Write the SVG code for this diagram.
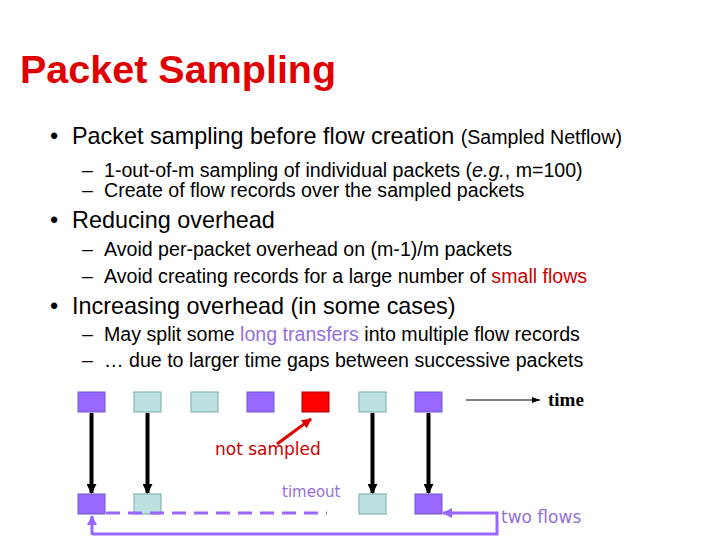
<svg xmlns="http://www.w3.org/2000/svg" width="720" height="540" viewBox="0 0 720 540">
<defs>
<style>
.t{font-family:"Liberation Sans",Arial,sans-serif;fill:#000}
.b1{font-size:23.4px}.b2{font-size:19.6px}
.p{fill:#9966ff;stroke:#6a5acd;stroke-width:1}
.c{fill:#bde0e0;stroke:#7aa;stroke-width:1}
</style>
<marker id="ab" markerWidth="10" markerHeight="10" refX="9" refY="5" orient="auto" markerUnits="userSpaceOnUse"><path d="M0,0L10,5L0,10z" fill="#000"/></marker>
<marker id="ar" markerWidth="10" markerHeight="10" refX="9" refY="5" orient="auto" markerUnits="userSpaceOnUse"><path d="M0,0L10,5L0,10z" fill="#e00000"/></marker>
<marker id="ap" markerWidth="10" markerHeight="10" refX="9" refY="5" orient="auto" markerUnits="userSpaceOnUse"><path d="M0,0L10,5L0,10z" fill="#9966ff"/></marker>
<marker id="ak" markerWidth="8" markerHeight="6" refX="8" refY="3" orient="auto" markerUnits="userSpaceOnUse"><path d="M0,0L8,3L0,6z" fill="#000"/></marker>
</defs>
<rect width="720" height="540" fill="#fff"/>
<text x="20" y="83" font-family="Liberation Sans,Arial,sans-serif" font-size="39.5" font-weight="bold" fill="#e00000">Packet Sampling</text>
<g class="t">
<text x="50" y="144" class="b1">•</text><text x="72" y="144" class="b1">Packet sampling before flow creation <tspan font-size="19.6">(Sampled Netflow)</tspan></text>
<text x="82" y="177" class="b2">–</text><text x="104" y="177" class="b2">1-out-of-m sampling of individual packets (<tspan font-style="italic">e.g.</tspan>, m=100)</text>
<text x="82" y="197" class="b2">–</text><text x="104" y="197" class="b2">Create of flow records over the sampled packets</text>
<text x="50" y="228" class="b1">•</text><text x="72" y="228" class="b1">Reducing overhead</text>
<text x="82" y="256" class="b2">–</text><text x="104" y="256" class="b2">Avoid per-packet overhead on (m-1)/m packets</text>
<text x="82" y="283" class="b2">–</text><text x="104" y="283" class="b2">Avoid creating records for a large number of <tspan fill="#cc0000">small flows</tspan></text>
<text x="50" y="314" class="b1">•</text><text x="72" y="314" class="b1">Increasing overhead (in some cases)</text>
<text x="82" y="341" class="b2">–</text><text x="104" y="341" class="b2">May split some <tspan fill="#9370db">long transfers</tspan> into multiple flow records</text>
<text x="82" y="367" class="b2">–</text><text x="104" y="367" class="b2">… due to larger time gaps between successive packets</text>
</g>
<g id="top">
<rect id="n1" x="78" y="392" width="27" height="20" class="p"/>
<rect id="n2" x="134" y="392" width="27" height="20" class="c"/>
<rect id="n3" x="191" y="392" width="27" height="20" class="c"/>
<rect id="n4" x="247" y="392" width="27" height="20" class="p"/>
<rect id="n5" x="302" y="392" width="27" height="20" fill="#ff0000" stroke="#a00"/>
<rect id="n6" x="359" y="392" width="27" height="20" class="c"/>
<rect id="n7" x="415" y="392" width="27" height="20" class="p"/>
</g>
<g id="bottom">
<rect id="m1" x="78" y="494" width="27" height="20" class="p"/>
<rect id="m2" x="134" y="494" width="27" height="20" class="c"/>
<rect id="m3" x="359" y="494" width="27" height="20" class="c"/>
<rect id="m4" x="415" y="494" width="27" height="20" class="p"/>
</g>
<g id="connectors">
<g stroke="#000" stroke-width="4" marker-end="url(#ab)">
<line x1="91.5" y1="413" x2="91.5" y2="493"/>
<line x1="147.5" y1="413" x2="147.5" y2="493"/>
<line x1="372.5" y1="413" x2="372.5" y2="493"/>
<line x1="428.5" y1="413" x2="428.5" y2="493"/>
</g>
<line x1="466" y1="400" x2="540" y2="400" stroke="#000" stroke-width="1" marker-end="url(#ak)"/>
<line x1="277" y1="444" x2="311" y2="419" stroke="#e00000" stroke-width="3" marker-end="url(#ar)"/>
<line x1="106" y1="513" x2="327" y2="513" stroke="#9966ff" stroke-width="3" stroke-dasharray="14,8"/>
<polyline points="92,534 497,534 497,513 443,513" fill="none" stroke="#9966ff" stroke-width="3" marker-end="url(#ap)"/>
<polyline points="92,535 92,516" fill="none" stroke="#9966ff" stroke-width="3" marker-end="url(#ap)"/>
</g>
<text x="548" y="406" font-family="Liberation Serif,serif" font-size="19" font-weight="bold">time</text>
<text x="215" y="455" font-family="DejaVu Sans,sans-serif" font-size="17" fill="#cc0000">not sampled</text>
<text x="282" y="497" font-family="DejaVu Sans,sans-serif" font-size="15" fill="#9370db">timeout</text>
<text x="501" y="523" font-family="DejaVu Sans,sans-serif" font-size="17" fill="#9370db">two flows</text>
</svg>
